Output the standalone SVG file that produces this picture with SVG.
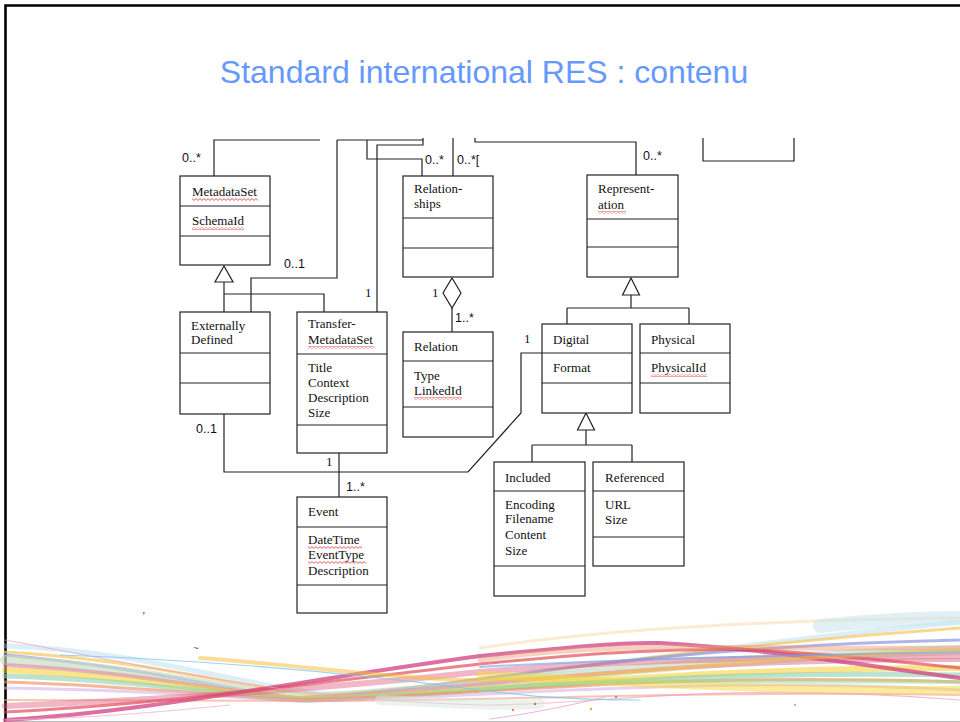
<svg xmlns="http://www.w3.org/2000/svg" width="960" height="722" viewBox="0 0 960 722">
<defs>
<style>
.box{fill:#fff;stroke:#222;stroke-width:1.2}
.dv{stroke:#222;stroke-width:1.2;fill:none}
.t{font-family:"Liberation Serif","Times New Roman",serif;font-size:13px;fill:#111}
.m{font-family:"Liberation Sans",Arial,sans-serif;font-size:12.5px;fill:#111}
.c{fill:none;stroke:#222;stroke-width:1.2}
.hd{fill:#fff;stroke:#222;stroke-width:1.2}
.sq{fill:url(#wavy)}
.rb{fill:none;stroke-linecap:round}
</style>
<pattern id="wavy" width="4" height="3" patternUnits="userSpaceOnUse"><path d="M0,0.6 L2,2.4 L4,0.6" fill="none" stroke="#e03030" stroke-width="0.8"/></pattern>
</defs>
<rect width="960" height="722" fill="#fff"/>
<path d="M5.5,722 V5.5 H960" fill="none" stroke="#000" stroke-width="2.6"/>
<line x1="5" y1="721.5" x2="960" y2="721.5" stroke="#bbb" stroke-width="1"/>

<text x="484" y="83" text-anchor="middle" font-family="'Liberation Sans',Arial,sans-serif" font-size="32" fill="#6699ff">Standard international RES : contenu</text>

<g id="ribbons">
<path class="rb" d="M5,646 C140,650 260,690 330,694 C480,690 620,655 960,622" stroke="#a8d8e8" stroke-width="5" opacity="0.4"/>
<path class="rb" d="M5,652 C150,660 250,690 320,695 C470,688 640,650 960,628" stroke="#f5c860" stroke-width="3" opacity="0.7"/>
<path class="rb" d="M5,655 C150,668 240,693 300,698 C460,690 600,648 960,640" stroke="#8f95e0" stroke-width="3" opacity="0.7"/>
<path class="rb" d="M5,660 C140,668 250,695 310,698 C470,690 640,660 960,650" stroke="#c8dcc0" stroke-width="10" opacity="0.65"/>
<path class="rb" d="M5,665 C140,672 240,695 300,698 C480,690 620,660 960,660" stroke="#e090a8" stroke-width="4" opacity="0.65"/>
<path class="rb" d="M5,670 C130,676 240,696 300,699 C480,695 640,668 960,668" stroke="#f5d030" stroke-width="6" opacity="0.55" stroke-dasharray="2 2"/>
<path class="rb" d="M5,676 C140,680 240,697 300,700 C480,694 640,670 960,675" stroke="#90d0b0" stroke-width="5" opacity="0.6"/>
<path class="rb" d="M5,682 C140,686 240,698 300,700 C480,696 640,672 960,682" stroke="#f09060" stroke-width="3" opacity="0.65"/>
<path class="rb" d="M5,688 C150,690 240,698 300,701 C480,699 680,675 960,690" stroke="#d8b0e8" stroke-width="3" opacity="0.6"/>
<path class="rb" d="M5,700 C150,700 250,700 300,701 C480,702 680,690 960,695" stroke="#f0a080" stroke-width="2" opacity="0.6"/>
<path class="rb" d="M5,720 C150,712 300,680 480,656 C560,648 620,642 660,643 C760,648 860,665 960,678" stroke="#d04080" stroke-width="4" opacity="0.75"/>
<path class="rb" d="M5,712 C160,705 320,682 480,664 C600,652 680,648 760,650 C840,655 900,662 960,668" stroke="#e04050" stroke-width="3" opacity="0.65"/>
<path class="rb" d="M5,706 C160,700 330,688 480,672 C600,662 700,658 960,656" stroke="#e06080" stroke-width="6" opacity="0.45"/>
<path class="rb" d="M200,658 C300,665 400,680 480,680 C600,680 700,660 960,650" stroke="#f5c040" stroke-width="4" opacity="0.55"/>
<path class="rb" d="M5,640 C120,660 280,700 480,705 C600,706 700,680 960,700" stroke="#f0a0c0" stroke-width="1.2" opacity="0.7"/>
<path class="rb" d="M60,655 C200,660 330,670 480,690 C520,695 560,700 640,700" stroke="#80c8e8" stroke-width="1.2" opacity="0.8"/>
<path class="rb" d="M480,675 C600,680 700,690 960,690" stroke="#f5d840" stroke-width="8" opacity="0.5" stroke-dasharray="2 2"/>
<path class="rb" d="M480,690 C560,680 700,680 960,682" stroke="#a0d890" stroke-width="4" opacity="0.55"/>
<path class="rb" d="M380,700 C460,703 480,706 540,704" stroke="#d8e8e0" stroke-width="10" opacity="0.5"/>
<path class="rb" d="M480,648 C600,630 760,620 960,618" stroke="#f5e0b0" stroke-width="3" opacity="0.6"/>
<path class="rb" d="M820,626 C880,620 920,618 960,618" stroke="#c8e4ec" stroke-width="14" opacity="0.55"/>
<path class="rb" d="M480,667 C600,660 800,655 960,652" stroke="#78a8e8" stroke-width="2" opacity="0.65"/>
<path class="rb" d="M480,660 C620,640 700,650 960,648" stroke="#e89870" stroke-width="5" opacity="0.45"/>
<path class="rb" d="M5,720 C100,718 180,710 230,705" stroke="#f0b0d0" stroke-width="1" opacity="0.8"/>
<path class="rb" d="M490,719 C520,715 560,708 605,697" stroke="#e8a0c8" stroke-width="1" opacity="0.8"/>
<circle cx="513" cy="710" r="1.2" fill="#f08050"/>
<circle cx="535" cy="704" r="1.2" fill="#f06050"/>
<circle cx="591" cy="709" r="1.2" fill="#f0a040"/>
<circle cx="616" cy="697" r="1.2" fill="#e070c0"/>
<circle cx="795" cy="705" r="1.2" fill="#a0b8f0"/>
</g>

<text x="142" y="619" font-family="'Liberation Serif',serif" font-size="10" fill="#222">’</text>
<text x="193" y="652" font-family="'Liberation Sans',sans-serif" font-size="10" fill="#666">~</text>

<g id="connectors">
<path class="c" d="M214,176 V140 H320"/>
<path class="c" d="M337,140 H423 M423,138 V145 H377 V312"/>
<path class="c" d="M337,140 V278 H251 V312"/>
<path class="c" d="M367,140 V159 H422 V176"/>
<path class="c" d="M453,138 V176"/>
<path class="c" d="M475,138 V142 H636 V175"/>
<path class="c" d="M703,138 V161 H794 V138"/>
<path class="c" d="M224,282 V312 M224,294 H324 V312"/>
<polygon class="hd" points="224,266 215,282 233,282"/>
<path class="c" d="M452,308 V332"/>
<polygon class="hd" points="452,278 461,293 452,308 443,293"/>
<path class="c" d="M631,295 V308 M567,308 H689 M567,308 V324 M689,308 V324"/>
<polygon class="hd" points="631,278 622.5,295 639.5,295"/>
<path class="c" d="M586,430 V445 M532,445 H632 M532,445 V462 M632,445 V462"/>
<polygon class="hd" points="586,413 577.5,430 594.5,430"/>
<path class="c" d="M542,353 H521 V413 L468,472 H224 V414"/>
<path class="c" d="M339,453 V497"/>
<text class="m" x="182" y="162">0..*</text>
<text class="m" x="284" y="268">0..1</text>
<text class="m" x="425" y="164">0..*</text>
<text class="m" x="457" y="164">0..*[</text>
<text class="t" x="365" y="297">1</text>
<text class="t" x="432" y="297">1</text>
<text class="m" x="643" y="160">0..*</text>
<text class="m" x="455" y="322">1..*</text>
<text class="m" x="196" y="433">0..1</text>
<text class="t" x="524" y="343">1</text>
<text class="t" x="326" y="466">1</text>
<text class="m" x="346" y="491">1..*</text>
</g>

<g id="MetadataSet">
<rect class="box" x="180" y="176" width="90" height="89"/>
<path class="dv" d="M180,206 H270 M180,236 H270"/>
<text class="t" x="192" y="196">MetadataSet</text>
<rect class="sq" x="192" y="198" width="66" height="3"/>
<text class="t" x="192" y="225">SchemaId</text>
<rect class="sq" x="192" y="227" width="52" height="3"/>
</g>

<g id="ExternallyDefined">
<rect class="box" x="180" y="312" width="90" height="102"/>
<path class="dv" d="M180,353 H270 M180,383 H270"/>
<text class="t" x="191" y="330">Externally</text>
<text class="t" x="191" y="344">Defined</text>
</g>

<g id="TransferMetadataSet">
<rect class="box" x="297" y="312" width="90" height="141"/>
<path class="dv" d="M297,354 H387 M297,425 H387"/>
<text class="t" x="308" y="328">Transfer-</text>
<text class="t" x="308" y="344">MetadataSet</text>
<rect class="sq" x="308" y="346" width="66" height="3"/>
<text class="t" x="308" y="372">Title</text>
<text class="t" x="308" y="387">Context</text>
<text class="t" x="308" y="402">Description</text>
<text class="t" x="308" y="417">Size</text>
</g>

<g id="Relationships">
<rect class="box" x="403" y="176" width="90" height="101"/>
<path class="dv" d="M403,218 H493 M403,248 H493"/>
<text class="t" x="414" y="193">Relation-</text>
<text class="t" x="414" y="208">ships</text>
</g>

<g id="Relation">
<rect class="box" x="403" y="332" width="90" height="105"/>
<path class="dv" d="M403,361 H493 M403,407 H493"/>
<text class="t" x="414" y="351">Relation</text>
<text class="t" x="414" y="380">Type</text>
<text class="t" x="414" y="395">LinkedId</text>
<rect class="sq" x="414" y="397" width="48" height="3"/>
</g>

<g id="Representation">
<rect class="box" x="587" y="175" width="91" height="102"/>
<path class="dv" d="M587,219 H678 M587,247 H678"/>
<text class="t" x="598" y="193">Represent-</text>
<text class="t" x="598" y="209">ation</text>
<rect class="sq" x="598" y="211" width="28" height="3"/>
</g>

<g id="Digital">
<rect class="box" x="542" y="324" width="90" height="89"/>
<path class="dv" d="M542,353 H632 M542,383 H632"/>
<text class="t" x="553" y="344">Digital</text>
<text class="t" x="553" y="372">Format</text>
</g>

<g id="Physical">
<rect class="box" x="640" y="324" width="90" height="89"/>
<path class="dv" d="M640,353 H730 M640,383 H730"/>
<text class="t" x="651" y="344">Physical</text>
<text class="t" x="651" y="372">PhysicalId</text>
<rect class="sq" x="651" y="374" width="56" height="3"/>
</g>

<g id="Event">
<rect class="box" x="297" y="497" width="90" height="116"/>
<path class="dv" d="M297,527 H387 M297,585 H387"/>
<text class="t" x="308" y="516">Event</text>
<text class="t" x="308" y="544">DateTime</text>
<rect class="sq" x="308" y="546" width="54" height="3"/>
<text class="t" x="308" y="559">EventType</text>
<rect class="sq" x="308" y="561" width="58" height="3"/>
<text class="t" x="308" y="575">Description</text>
</g>

<g id="Included">
<rect class="box" x="494" y="462" width="91" height="134"/>
<path class="dv" d="M494,491 H585 M494,566 H585"/>
<text class="t" x="505" y="482">Included</text>
<text class="t" x="505" y="509">Encoding</text>
<text class="t" x="505" y="523">Filename</text>
<text class="t" x="505" y="539">Content</text>
<text class="t" x="505" y="555">Size</text>
</g>

<g id="Referenced">
<rect class="box" x="593" y="462" width="91" height="104"/>
<path class="dv" d="M593,491 H684 M593,537 H684"/>
<text class="t" x="605" y="482">Referenced</text>
<text class="t" x="605" y="509">URL</text>
<text class="t" x="605" y="524">Size</text>
</g>
</svg>
